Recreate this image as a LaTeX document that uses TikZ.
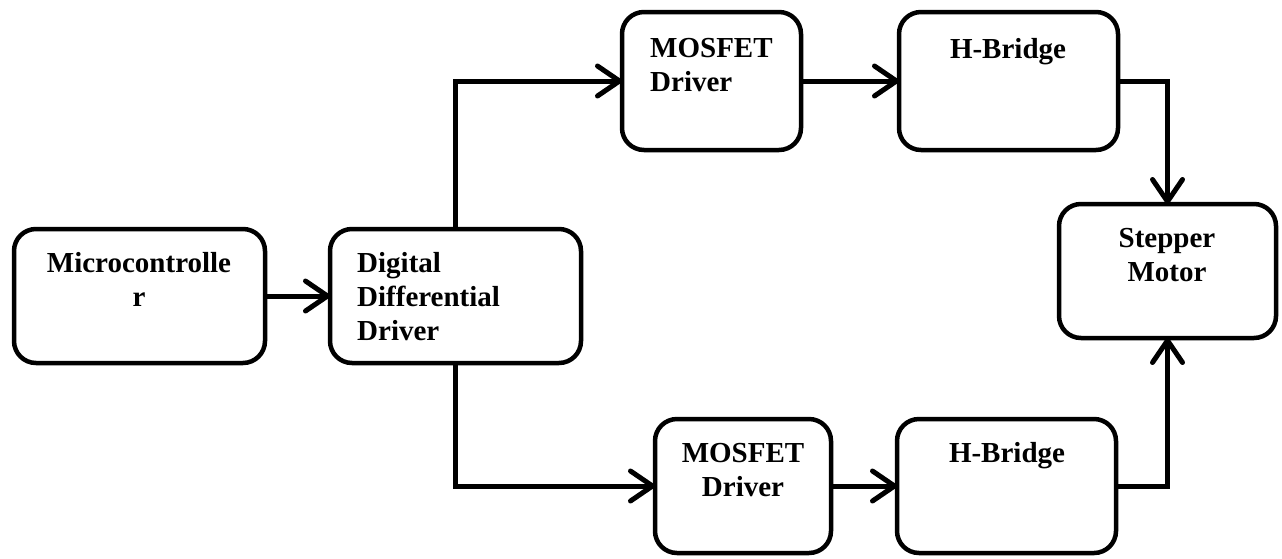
\documentclass[tikz,border=0pt]{standalone}
\usepackage{fontspec}
\setmainfont{Liberation Serif}
\usetikzlibrary{arrows.meta}
\begin{document}
\begin{tikzpicture}[x=1pt,y=-1pt,
  blk/.style={draw, line width=4.5pt, rounded corners=22pt, inner sep=0pt, outer sep=0pt},
  lbl/.style={font=\fontsize{29}{34}\selectfont\bfseries, inner sep=0pt, anchor=base},
  conn/.style={line width=5pt, -{Straight Barb[length=22pt,width=30pt,round]}}
]
\useasboundingbox (0,0) rectangle (1282,558);
% boxes
\node[blk, minimum width=251pt, minimum height=134pt] (micro) at (139.5,296) {};
\node[blk, minimum width=251pt, minimum height=134pt] (dig) at (455.5,296) {};
\node[blk, minimum width=179pt, minimum height=138pt] (mos1) at (711.5,81) {};
\node[blk, minimum width=219pt, minimum height=138pt] (hb1) at (1008.5,81) {};
\node[blk, minimum width=217pt, minimum height=134pt] (step) at (1167.5,271) {};
\node[blk, minimum width=176pt, minimum height=134pt] (mos2) at (743,486) {};
\node[blk, minimum width=219pt, minimum height=134pt] (hb2) at (1006.5,486) {};
% labels (base anchor = baseline of the last line)
\node[lbl, align=center] (tmicro) at (139,306) {Microcontrolle\\r};
\node[lbl, align=left, anchor=base west] (tdig) at (357,340) {Digital\\Differential\\Driver};
\node[lbl, align=left, anchor=base west] (tmos1) at (650,91) {MOSFET\\Driver};
\node[lbl] (thb1) at (1008,58) {H-Bridge};
\node[lbl, align=center] (tstep) at (1167,281) {Stepper\\Motor};
\node[lbl, align=center] (tmos2) at (743,496) {MOSFET\\Driver};
\node[lbl] (thb2) at (1007,462) {H-Bridge};
% connectors
\draw[conn] (micro.east) -- (dig.west);
\draw[conn] (dig.north) |- (mos1.west);
\draw[conn] (mos1.east) -- (hb1.west);
\draw[conn] (hb1.east) -| (step.north);
\draw[conn] (dig.south) |- (mos2.west);
\draw[conn] (mos2.east) -- (hb2.west);
\draw[conn] (hb2.east) -| (step.south);
\end{tikzpicture}
\end{document}
